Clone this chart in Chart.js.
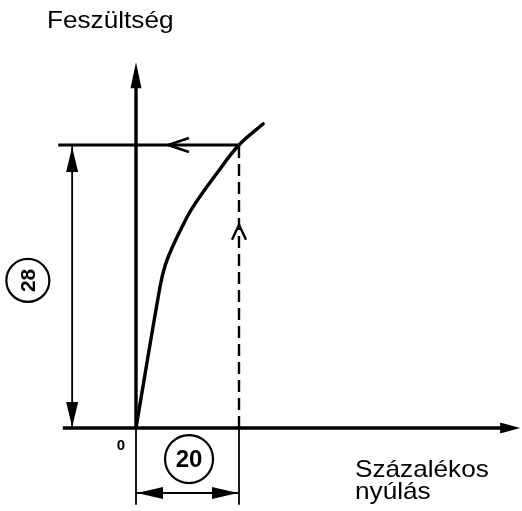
<!DOCTYPE html>
<html>
<head>
<meta charset="utf-8">
<script src="https://cdn.jsdelivr.net/npm/chart.js@4/dist/chart.umd.min.js"></script>
<style>
html,body{margin:0;padding:0;background:#fff;}
#wrap{width:522px;height:511px;}
</style>
</head>
<body>
<div id="wrap"><canvas id="c" width="522" height="511"></canvas></div>
<script>
// ---- data (in chart units: x = percent elongation, y = stress) ----
const curveX = [0, 4.66, 5.63, 6.99, 8.93, 11.1, 15.7, 20, 24.7];
const curveY = [0, 13.95, 16.03, 17.81, 19.89, 21.9, 25.2, 28, 30.1];
const readX = 20;          // read-off elongation
const readY = 28;          // read-off stress
const labelX = "20";
const labelY = "28";
const originLabel = "0";
const yTitle = "Feszültség";
const xTitleLines = ["Százalékos", "nyúlás"];

// axis extents (chart units)
const xAxisFrom = -14.2, xAxisTo = 74.6;
const yAxisTo = 36.2;
const topLineFrom = -15.1;
const dimYx = -12.4;        // vertical dimension line position
const dimXy = -6.43;        // horizontal dimension line position
const extBottom = -7.6;     // extension lines bottom

function seg(x1, y1, x2, y2, extra) {
  return Object.assign({
    data: [{x: x1, y: y1}, {x: x2, y: y2}],
    showLine: true, pointRadius: 0, borderColor: '#000', borderWidth: 2, fill: false
  }, extra || {});
}

const datasets = [
  {
    data: curveX.map((x, i) => ({x, y: curveY[i]})),
    showLine: true, pointRadius: 0, borderColor: '#000', borderWidth: 3.4,
    tension: 0.4, fill: false, borderCapStyle: 'round'
  },
  seg(0, 0, 0, yAxisTo - 2.2, {borderWidth: 3.4}),              // y axis
  seg(xAxisFrom, 0, xAxisTo - 3, 0, {borderWidth: 3.4}),          // x axis
  seg(topLineFrom, readY, readX, readY, {borderWidth: 2.8}),    // stress line
  seg(readX, 0, readX, readY, {borderWidth: 2.4, borderDash: [12, 6]}), // dashed
  seg(dimYx, 0, dimYx, readY, {borderWidth: 1.8}),              // dimension vertical
  seg(0, 0, 0, extBottom, {borderWidth: 1.8}),                  // extension line
  seg(readX, 0, readX, extBottom, {borderWidth: 1.8}),          // extension line
  seg(0, dimXy, readX, dimXy, {borderWidth: 1.8})               // dimension horizontal
];

function tri(ctx, tip, dir, len, hw) {
  const bx = tip[0] - dir[0] * len, by = tip[1] - dir[1] * len;
  const nx = -dir[1], ny = dir[0];
  ctx.beginPath();
  ctx.moveTo(tip[0], tip[1]);
  ctx.lineTo(bx + nx * hw, by + ny * hw);
  ctx.lineTo(bx - nx * hw, by - ny * hw);
  ctx.closePath();
  ctx.fill();
}
function openArrow(ctx, tip, dir, len, hw) {
  const bx = tip[0] - dir[0] * len, by = tip[1] - dir[1] * len;
  const nx = -dir[1], ny = dir[0];
  ctx.beginPath();
  ctx.moveTo(bx + nx * hw, by + ny * hw);
  ctx.lineTo(tip[0], tip[1]);
  ctx.lineTo(bx - nx * hw, by - ny * hw);
  ctx.stroke();
}

const decor = {
  id: 'decor',
  afterDatasetsDraw(chart) {
    const ctx = chart.ctx;
    const xs = chart.scales.x, ys = chart.scales.y;
    const P = (x, y) => [xs.getPixelForValue(x), ys.getPixelForValue(y)];
    ctx.save();
    ctx.fillStyle = '#000';
    ctx.strokeStyle = '#000';
    // axis arrows
    tri(ctx, P(0, yAxisTo), [0, -1], 26, 5.5);
    tri(ctx, P(xAxisTo, 0), [1, 0], 20, 5.5);
    // vertical dimension arrows
    const dTop = P(dimYx, readY), dBot = P(dimYx, 0);
    tri(ctx, [dTop[0], dTop[1] + 2], [0, -1], 25, 6);
    tri(ctx, [dBot[0], dBot[1] - 1], [0, 1], 25, 6);
    // horizontal dimension arrows
    const hL = P(0, dimXy), hR = P(readX, dimXy);
    tri(ctx, [hL[0] + 1, hL[1]], [-1, 0], 26, 6);
    tri(ctx, [hR[0] - 1, hR[1]], [1, 0], 26, 6);
    // flow arrows (open)
    ctx.lineWidth = 2.4;
    const up = P(readX, 20.1);
    openArrow(ctx, up, [0, -1], 15, 7);
    const lf = P(6.2, readY);
    openArrow(ctx, lf, [-1, 0], 21, 7);

    // circled labels
    ctx.lineWidth = 2.2;
    const c28 = P(-21.0, 14.6);
    ctx.beginPath(); ctx.arc(c28[0], c28[1], 21.5, 0, Math.PI * 2); ctx.stroke();
    const c20 = P(10.3, -3.07);
    ctx.beginPath(); ctx.arc(c20[0], c20[1], 24, 0, Math.PI * 2); ctx.stroke();
    ctx.font = 'bold 24px "Liberation Sans Narrow", "Liberation Sans", Arial, sans-serif';
    ctx.textAlign = 'center';
    ctx.textBaseline = 'middle';
    ctx.fillText(labelX, c20[0], c20[1] + 1);
    ctx.save();
    ctx.translate(c28[0], c28[1]);
    ctx.rotate(-Math.PI / 2);
    ctx.font = 'bold 21px "Liberation Sans Narrow", "Liberation Sans", Arial, sans-serif';
    ctx.fillText(labelY, 0, 1);
    ctx.restore();

    // origin label
    ctx.font = 'bold 15px "Liberation Sans", Arial, sans-serif';
    const o = P(0, 0);
    ctx.fillText(originLabel, o[0] - 15, o[1] + 18);

    // titles
    ctx.textAlign = 'left';
    ctx.textBaseline = 'alphabetic';
    ctx.font = '24px "Liberation Sans", Arial, sans-serif';
    const drawStretched = (t, x, y) => {
      ctx.save(); ctx.translate(x, y); ctx.scale(1.09, 1); ctx.fillText(t, 0, 0); ctx.restore();
    };
    drawStretched(yTitle, 47, 28);
    drawStretched(xTitleLines[0], 355, 477);
    drawStretched(xTitleLines[1], 355, 499);
    ctx.restore();
  }
};

new Chart(document.getElementById('c'), {
  type: 'scatter',
  data: {datasets},
  options: {
    responsive: false,
    devicePixelRatio: 1,
    animation: false,
    layout: {padding: 0},
    plugins: {legend: {display: false}, tooltip: {enabled: false}},
    scales: {
      x: {type: 'linear', display: false, min: -26.408, max: 74.951},
      y: {type: 'linear', display: false, min: -8.212, max: 42.347}
    },
    elements: {line: {borderCapStyle: 'butt'}}
  },
  plugins: [decor]
});
</script>
</body>
</html>
